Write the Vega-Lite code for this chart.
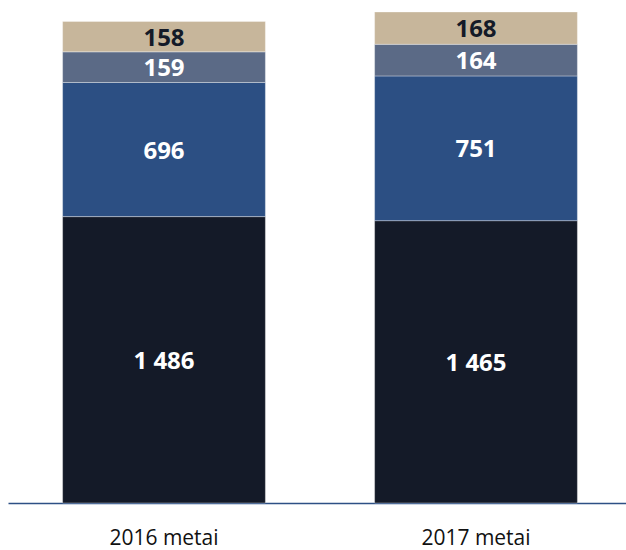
{
  "$schema": "https://vega.github.io/schema/vega-lite/v6.json",
  "width": 624,
  "height": 503,
  "padding": {"left": 8, "top": 0, "right": 0, "bottom": 47},
  "autosize": {"type": "none"},
  "background": "#ffffff",
  "config": {
    "view": {"stroke": null},
    "font": "Open Sans",
    "axisX": {"domainColor": "#2d5085", "domainWidth": 1.5, "domainOpacity": 1}
  },
  "data": {
    "values": [
      {"year": "2016 metai", "series": "S1", "order": 1, "value": 1486, "label": "1 486"},
      {"year": "2016 metai", "series": "S2", "order": 2, "value": 696, "label": "696"},
      {"year": "2016 metai", "series": "S3", "order": 3, "value": 159, "label": "159"},
      {"year": "2016 metai", "series": "S4", "order": 4, "value": 158, "label": "158"},
      {"year": "2017 metai", "series": "S1", "order": 1, "value": 1465, "label": "1 465"},
      {"year": "2017 metai", "series": "S2", "order": 2, "value": 751, "label": "751"},
      {"year": "2017 metai", "series": "S3", "order": 3, "value": 164, "label": "164"},
      {"year": "2017 metai", "series": "S4", "order": 4, "value": 168, "label": "168"}
    ]
  },
  "transform": [
    {"stack": "value", "groupby": ["year"], "sort": [{"field": "order", "order": "ascending"}], "as": ["v0", "v1"]},
    {"calculate": "(datum.v0 + datum.v1) / 2", "as": "mid"}
  ],
  "encoding": {
    "x": {
      "field": "year", "type": "nominal",
      "scale": {"paddingInner": 0.35, "paddingOuter": 0.175},
      "axis": {
        "title": null, "labelAngle": 0, "ticks": false, "domainColor": "#2d5085", "domainWidth": 1.5,
        "labelFontSize": 21, "labelColor": "#111111", "labelPadding": 24, "labelFont": "Open Sans"
      }
    }
  },
  "layer": [
    {
      "mark": {"type": "bar", "stroke": "#ffffff", "strokeOpacity": 0.35, "strokeWidth": 1},
      "encoding": {
        "y": {"field": "v0", "type": "quantitative", "scale": {"domain": [0, 2610], "nice": false}, "axis": null},
        "y2": {"field": "v1"},
        "color": {
          "field": "series", "type": "nominal", "legend": null,
          "scale": {"domain": ["S1", "S2", "S3", "S4"], "range": ["#141a28", "#2c4f83", "#5b6a86", "#c7b69b"]}
        }
      }
    },
    {
      "mark": {"type": "text", "fontWeight": "bold", "fontSize": 24, "baseline": "middle", "dy": 2, "font": "Open Sans"},
      "encoding": {
        "y": {"field": "mid", "type": "quantitative", "scale": {"domain": [0, 2610], "nice": false}},
        "text": {"field": "label"},
        "color": {
          "condition": {"test": "datum.series === 'S4'", "value": "#141a28"},
          "value": "#ffffff"
        }
      }
    }
  ]
}
